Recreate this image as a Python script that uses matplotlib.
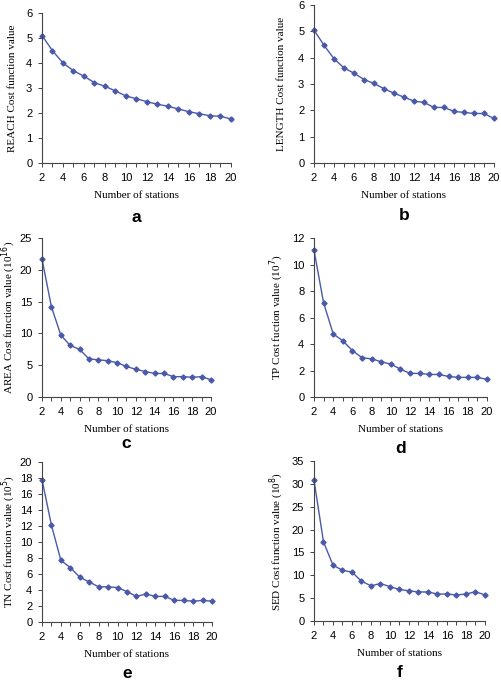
import numpy as np
import matplotlib
matplotlib.use("Agg")
import matplotlib.pyplot as plt
from matplotlib.ticker import MultipleLocator

# number of stations
stations = list(range(2, 21))

reach = [5.10, 4.49, 4.00, 3.69, 3.47, 3.21, 3.07, 2.88, 2.68, 2.57,
         2.45, 2.35, 2.27, 2.16, 2.05, 1.97, 1.89, 1.87, 1.76]
length = [5.05, 4.47, 3.96, 3.61, 3.41, 3.17, 3.02, 2.82, 2.65, 2.50,
          2.35, 2.30, 2.11, 2.11, 1.96, 1.92, 1.88, 1.88, 1.69]
area = [21.7, 14.2, 9.75, 8.1, 7.5, 6.0, 5.85, 5.7, 5.4, 4.8,
        4.35, 4.0, 3.7, 3.7, 3.2, 3.2, 3.1, 3.2, 2.7]
tp = [11.08, 7.1, 4.76, 4.24, 3.5, 2.96, 2.88, 2.66, 2.48, 2.1,
      1.78, 1.78, 1.7, 1.7, 1.55, 1.48, 1.48, 1.48, 1.33]
tn = [17.8, 12.1, 7.7, 6.8, 5.6, 5.0, 4.4, 4.4, 4.3, 3.8,
      3.2, 3.5, 3.2, 3.2, 2.7, 2.7, 2.6, 2.7, 2.6]
sed = [30.8, 17.3, 12.2, 11.1, 10.7, 8.7, 7.7, 8.2, 7.5, 6.9,
       6.6, 6.35, 6.35, 5.9, 5.9, 5.7, 5.9, 6.4, 5.7]

ylabels = ["REACH Cost function value",
           "LENGTH Cost function value",
           "AREA Cost function value (10$^{16}$)",
           "TP Cost fuction value (10$^{7}$)",
           "TN Cost function value (10$^{5}$)",
           "SED Cost function value (10$^{8}$)"]
panel_letters = ["a", "b", "c", "d", "e", "f"]
series = [reach, length, area, tp, tn, sed]
ymax = [6, 6, 25, 12, 20, 35]
ystep = [1, 1, 5, 2, 2, 5]

# axes boxes in pixels (left, right, top, bottom)
W, H = 502, 685
boxes = [(42, 231, 13, 163), (314, 494, 5, 163),
         (42, 211, 238, 397), (314, 487, 238, 397),
         (42, 212, 462, 622), (314, 485, 461, 621)]
letter_base = [222, 220, 448, 453, 678, 677]
# right edge of the rotated y label, in pixels
ylabel_x = [17, 286, 18, 286, 18, 286]

line_col = "#4a5aa8"
serif = ["Liberation Serif", "DejaVu Serif"]
sans = ["Liberation Sans", "DejaVu Sans"]

fig = plt.figure(figsize=(W / 100, H / 100), dpi=100)
for i in range(6):
    l, r, t, b = boxes[i]
    ax = fig.add_axes([l / W, 1 - b / H, (r - l) / W, (b - t) / H])
    ax.plot(stations, series[i], color=line_col, lw=1.0, marker="D",
            ms=2.6, mec=line_col, mfc=line_col, clip_on=False)
    ax.set_xlim(2, 20)
    ax.set_ylim(0, ymax[i])
    ax.xaxis.set_major_locator(MultipleLocator(2))
    ax.xaxis.set_minor_locator(MultipleLocator(1))
    ax.yaxis.set_major_locator(MultipleLocator(ystep[i]))
    for s in ["top", "right"]:
        ax.spines[s].set_visible(False)
    for s in ["left", "bottom"]:
        ax.spines[s].set_color("#444444")
        ax.spines[s].set_linewidth(0.8)
    ax.tick_params(which="both", direction="out", length=3, width=0.7,
                   color="#444444", labelsize=8, pad=4)
    for lab in ax.get_xticklabels() + ax.get_yticklabels():
        lab.set_family(sans)
    ax.set_xlabel("Number of stations", family=serif, fontsize=8, labelpad=6)
    ax.set_ylabel(ylabels[i], family=serif, fontsize=8)
    ax.yaxis.set_label_coords((ylabel_x[i] - l) / (r - l), 0.5)
    cx = (l + r) / 2 / W
    fig.text(cx, 1 - letter_base[i] / H, panel_letters[i], ha="center",
             va="baseline", fontsize=12.5, fontweight="bold", family=sans)

fig.savefig("out.png", dpi=100)
